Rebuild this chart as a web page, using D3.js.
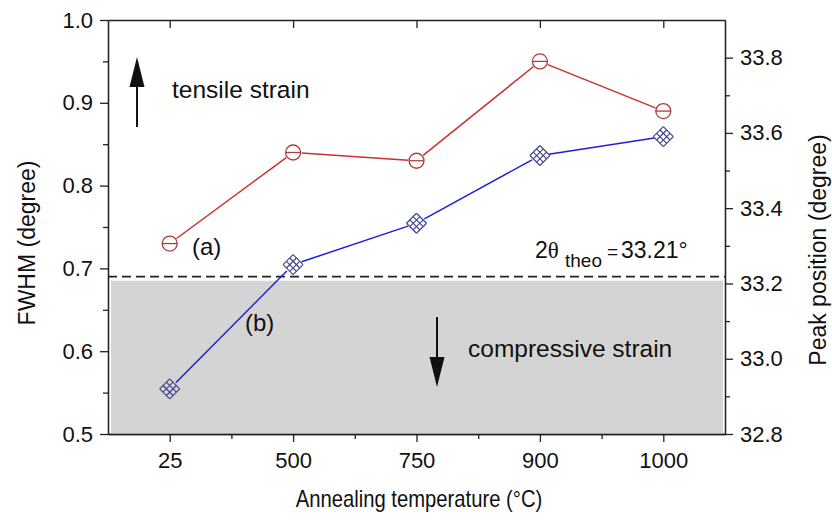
<!DOCTYPE html>
<html>
<head>
<meta charset="utf-8">
<script src="https://d3js.org/d3.v7.min.js"></script>
<style>
body { margin: 0; background: #fff; }
text { font-family: "Liberation Sans", Arial, sans-serif; fill: #111; }
</style>
</head>
<body>
<script>
// data
var temps = ["25", "500", "750", "900", "1000"];
var fwhm = [0.73, 0.84, 0.83, 0.95, 0.89];
var peakPos = [32.92, 33.25, 33.36, 33.54, 33.59];
var fwhmTicks = [0.5, 0.6, 0.7, 0.8, 0.9, 1.0];
var fwhmMinor = [0.55, 0.65, 0.75, 0.85, 0.95];
var peakTicks = [32.8, 33.0, 33.2, 33.4, 33.6, 33.8];
var peakMinor = [32.9, 33.1, 33.3, 33.5, 33.7];
var theo = 33.21;

//margin
var margin = { top: 20, right: 107, bottom: 95, left: 108 },
    width = 832 - margin.left - margin.right,
    height = 529 - margin.top - margin.bottom;

var svg = d3.select("body").append("svg")
    .attr("width", 832)
    .attr("height", 529)
  .append("g")
    .attr("transform", "translate(" + margin.left + "," + margin.top + ")");

//scales
var idx = d3.range(temps.length);
var x = d3.scaleLinear().domain([-0.5, temps.length - 0.5]).range([0, width]);
var y = d3.scaleLinear().domain([0.5, 1.0]).range([height, 0]);
var y2 = d3.scaleLinear().domain([32.8, 33.9]).range([height, 0]);

//grey compressive region + dashed theo line
svg.append("rect")
    .attr("x", 3)
    .attr("y", y2(theo) + 1)
    .attr("width", width - 5)
    .attr("height", height - y2(theo) - 2)
    .attr("fill", "#d4d4d4");

svg.append("line")
    .attr("x1", 0).attr("x2", width)
    .attr("y1", y2(theo) - 3).attr("y2", y2(theo) - 3)
    .attr("stroke", "#222")
    .attr("stroke-width", 1.8)
    .attr("stroke-dasharray", "9,5");

//axes
function styleAxis(g) {
  g.selectAll("path, line").attr("stroke", "#222").attr("stroke-width", 1.3);
  g.selectAll("text").style("font-size", "22px").style("font-family", "Liberation Sans, Arial, sans-serif").attr("fill", "#111");
}

svg.append("g")
    .call(d3.axisLeft(y).tickValues(fwhmTicks).tickSize(8).tickSizeOuter(0).tickPadding(7).tickFormat(d3.format(".1f")))
    .call(styleAxis);
svg.append("g")
    .call(d3.axisLeft(y).tickValues(fwhmMinor).tickSize(5).tickSizeOuter(0).tickFormat(""))
    .call(styleAxis);

svg.append("g")
    .attr("transform", "translate(" + width + ",0)")
    .call(d3.axisRight(y2).tickValues(peakTicks).tickSize(8).tickSizeOuter(0).tickPadding(7).tickFormat(d3.format(".1f")))
    .call(styleAxis);
svg.append("g")
    .attr("transform", "translate(" + width + ",0)")
    .call(d3.axisRight(y2).tickValues(peakMinor).tickSize(5).tickSizeOuter(0).tickFormat(""))
    .call(styleAxis);

svg.append("g")
    .attr("transform", "translate(0," + height + ")")
    .call(d3.axisBottom(x).tickValues(idx).tickSize(8).tickSizeOuter(0).tickPadding(10).tickFormat(function(i) { return temps[i]; }))
    .call(styleAxis);
svg.append("g")
    .attr("transform", "translate(0," + height + ")")
    .call(d3.axisBottom(x).tickValues(idx.slice(1).map(function(i) { return i - 0.5; })).tickSize(5).tickSizeOuter(0).tickFormat(""))
    .call(styleAxis);

svg.append("g")
    .call(d3.axisTop(x).tickValues(idx).tickSize(-8).tickSizeOuter(0).tickFormat(""))
    .call(styleAxis);

//axis titles
svg.append("text")
    .attr("transform", "translate(" + (35 - margin.left) + "," + (243 - margin.top) + ") rotate(-90)")
    .attr("text-anchor", "middle")
    .style("font-size", "23px")
    .text("FWHM (degree)");

svg.append("text")
    .attr("transform", "translate(" + (826 - margin.left) + "," + (250 - margin.top) + ") rotate(-90)")
    .attr("text-anchor", "middle")
    .style("font-size", "23px")
    .text("Peak position (degree)");

svg.append("text")
    .attr("transform", "translate(" + (419 - margin.left) + "," + (507 - margin.top) + ") scale(0.88,1)")
    .attr("text-anchor", "middle")
    .style("font-size", "23px")
    .text("Annealing temperature (\u00B0C)");

//lines with gaps at the markers
function gapped(vals, ys, gap) {
  var segs = [];
  for (var i = 0; i < vals.length - 1; i++) {
    var x1 = x(i), y1 = ys(vals[i]), x2 = x(i + 1), y2p = ys(vals[i + 1]);
    var dx = x2 - x1, dy = y2p - y1, L = Math.sqrt(dx * dx + dy * dy);
    segs.push([x1 + dx / L * gap, y1 + dy / L * gap, x2 - dx / L * gap, y2p - dy / L * gap]);
  }
  return segs;
}

svg.selectAll(".seg-a")
    .data(gapped(fwhm, y, 8.5))
  .enter().append("line")
    .attr("x1", function(d) { return d[0]; })
    .attr("y1", function(d) { return d[1]; })
    .attr("x2", function(d) { return d[2]; })
    .attr("y2", function(d) { return d[3]; })
    .attr("stroke", "#c8312c")
    .attr("stroke-width", 1.5);

svg.selectAll(".seg-b")
    .data(gapped(peakPos, y2, 9))
  .enter().append("line")
    .attr("x1", function(d) { return d[0]; })
    .attr("y1", function(d) { return d[1]; })
    .attr("x2", function(d) { return d[2]; })
    .attr("y2", function(d) { return d[3]; })
    .attr("stroke", "#1f1fd6")
    .attr("stroke-width", 1.5);

//circle-minus markers (a)
var ma = svg.selectAll(".ma")
    .data(fwhm)
  .enter().append("g")
    .attr("transform", function(d, i) { return "translate(" + x(i) + "," + y(d) + ")"; });
ma.append("circle")
    .attr("r", 7.5)
    .attr("fill", "none")
    .attr("stroke", "#a8403e")
    .attr("stroke-width", 1.3);
ma.append("line")
    .attr("x1", -7.5).attr("x2", 7.5)
    .attr("stroke", "#a8403e")
    .attr("stroke-width", 1.3);

//cross-hatched diamond markers (b)
var s = 10;
var hatch = [];
[-1, -1 / 3, 1 / 3, 1].forEach(function(t) {
  // lines along both diagonals of a rotated square
  hatch.push([-s / 2 + t * s / 2, -s / 2 - t * s / 2, s / 2 + t * s / 2, s / 2 - t * s / 2]);
  hatch.push([-s / 2 + t * s / 2, s / 2 + t * s / 2, s / 2 + t * s / 2, -s / 2 + t * s / 2]);
});
var mb = svg.selectAll(".mb")
    .data(peakPos)
  .enter().append("g")
    .attr("transform", function(d, i) { return "translate(" + x(i) + "," + y2(d) + ")"; });
mb.selectAll("line")
    .data(hatch)
  .enter().append("line")
    .attr("x1", function(d) { return d[0]; })
    .attr("y1", function(d) { return d[1]; })
    .attr("x2", function(d) { return d[2]; })
    .attr("y2", function(d) { return d[3]; })
    .attr("stroke", "#45458f")
    .attr("stroke-width", 1.2);

//annotations
svg.append("text").attr("x", 192 - margin.left).attr("y", 255 - margin.top).style("font-size", "24px").text("(a)");
svg.append("text").attr("x", 245 - margin.left).attr("y", 331 - margin.top).style("font-size", "24px").text("(b)");
svg.append("text").attr("x", 172 - margin.left).attr("y", 98 - margin.top).style("font-size", "24.5px").text("tensile strain");
svg.append("text").attr("x", 468 - margin.left).attr("y", 357 - margin.top).style("font-size", "24.5px").text("compressive strain");

var th = svg.append("text").attr("y", 258 - margin.top);
th.append("tspan").attr("x", 535 - margin.left).style("font-size", "23px").text("2");
th.append("tspan").style("font-family", "Liberation Serif, serif").style("font-size", "23px").text("\u03B8");
th.append("tspan").attr("x", 565 - margin.left).attr("y", 267 - margin.top).style("font-size", "19px").text("theo");
th.append("tspan").attr("x", 607 - margin.left).attr("y", 258 - margin.top).style("font-size", "19px").text("=");
th.append("tspan").attr("x", 621 - margin.left).style("font-size", "23px").text("33.21\u00B0");

//arrows
function arrow(ax, yTail, yTip) {
  var dir = yTip < yTail ? 1 : -1;
  svg.append("line")
      .attr("x1", ax).attr("x2", ax)
      .attr("y1", yTail).attr("y2", yTip + dir * 20)
      .attr("stroke", "#111").attr("stroke-width", 2);
  svg.append("path")
      .attr("d", "M" + ax + "," + yTip + "L" + (ax - 7.5) + "," + (yTip + dir * 30) + "L" + (ax + 7.5) + "," + (yTip + dir * 30) + "Z")
      .attr("fill", "#111");
}
arrow(137 - margin.left, 127 - margin.top, 57 - margin.top);
arrow(437 - margin.left, 317 - margin.top, 387 - margin.top);
</script>
</body>
</html>
